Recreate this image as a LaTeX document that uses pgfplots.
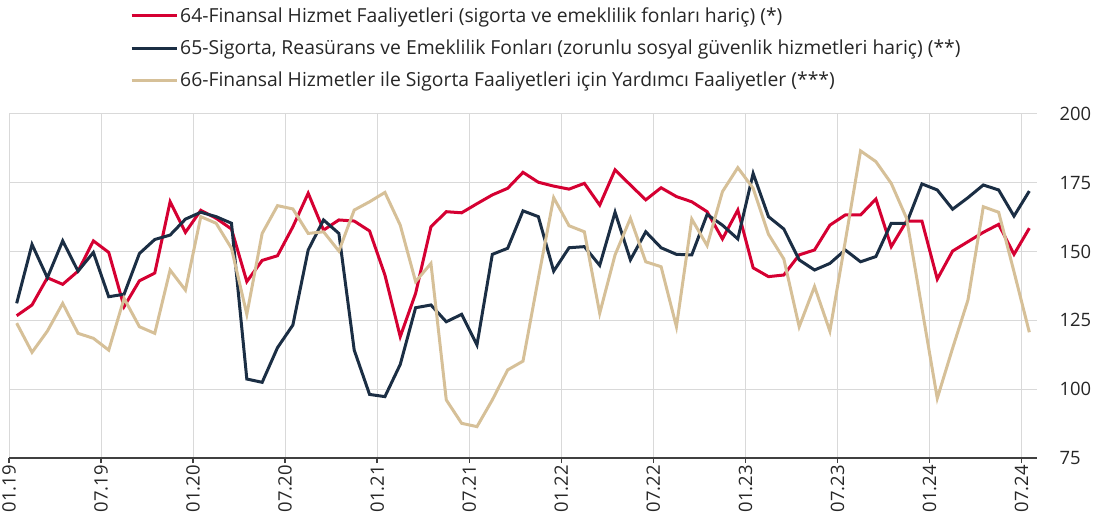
\documentclass[border=0pt]{standalone}
\usepackage{pgfplots}
\pgfplotsset{compat=1.18}
\usepackage{pgfplotstable}
\usepackage{fontspec}
\setmainfont{Open Sans}
\definecolor{cred}{RGB}{213,0,50}
\definecolor{cnavy}{RGB}{27,46,68}
\definecolor{ctan}{RGB}{214,192,152}
\definecolor{cgrid}{RGB}{217,217,217}
\definecolor{caxis}{RGB}{64,64,64}
\definecolor{ctext}{RGB}{38,38,38}

\pgfplotstableread{
i a b c
0 126.7 131.2 124.0
1 130.6 152.6 113.4
2 140.5 140.5 121.1
3 138.1 153.9 131.2
4 142.9 142.9 120.3
5 153.9 149.7 118.5
6 149.7 133.6 114.2
7 130.0 134.5 133.0
8 139.4 149.3 122.7
9 142.2 154.4 120.3
10 168.1 156.0 143.3
11 157.0 161.8 136.0
12 165.0 164.3 162.7
13 162.1 162.7 160.3
14 158.2 160.3 151.2
15 139.1 103.7 127.2
16 146.8 102.5 156.6
17 148.5 115.1 166.7
18 159.0 123.3 165.5
19 171.2 150.6 156.6
20 157.8 161.5 157.2
21 161.5 156.6 150.2
22 161.1 114.2 165.1
23 157.5 98.1 168.1
24 141.5 97.3 171.5
25 119.1 109.0 159.6
26 134.8 129.6 139.1
27 159.0 130.6 145.7
28 164.5 124.5 96.1
29 164.1 127.2 87.6
30 167.4 116.1 86.4
31 170.6 149.0 96.1
32 173.0 151.2 107.0
33 178.8 164.8 110.2
34 175.2 162.7 140.3
35 173.8 142.9 169.6
36 172.7 151.4 159.4
37 174.8 151.8 157.2
38 166.9 145.0 127.6
39 179.7 164.3 148.8
40 174.2 147.0 162.1
41 168.8 157.2 146.3
42 173.2 151.4 144.5
43 170.0 149.0 122.7
44 168.1 148.8 161.8
45 164.5 163.5 152.2
46 154.6 159.6 171.8
47 165.1 154.6 180.5
48 144.1 178.4 173.0
49 140.9 162.7 156.3
50 141.5 158.2 147.3
51 148.8 147.0 122.7
52 150.6 143.3 137.3
53 159.6 145.7 121.1
54 163.3 150.6 153.6
55 163.3 146.3 186.6
56 169.1 148.2 182.7
57 151.8 160.3 174.8
58 161.1 160.3 162.1
59 161.1 174.6 129.4
60 140.0 172.4 96.7
61 150.2 165.4 114.9
62 153.6 169.6 132.4
63 157.0 174.2 166.3
64 159.9 172.4 164.3
65 149.0 162.9 142.7
66 158.5 172.0 120.7
}\datatable

\begin{document}
\begin{tikzpicture}
\useasboundingbox (-9bp,-62bp) rectangle (1086bp,458bp);
\begin{axis}[
  at={(0,0)}, anchor=south west,
  scale only axis,
  width=1028bp, height=344bp,
  xmin=-0.5, xmax=66.5,
  ymin=75, ymax=200,
  ytick={75,100,125,150,175,200},
  xtick={-0.5,5.5,11.5,17.5,23.5,29.5,35.5,41.5,47.5,53.5,59.5,65.5},
  xticklabels={01.19,07.19,01.20,07.20,01.21,07.21,01.22,07.22,01.23,07.23,01.24,07.24},
  axis x line*=bottom,
  axis y line*=right,
  y axis line style={draw=none},
  x axis line style={draw=caxis, line width=1.5bp, -},
  xmajorgrids, ymajorgrids,
  major grid style={draw=cgrid, line width=1bp},
  tick align=outside,
  major tick length=5bp,
  xtick style={draw=caxis, line width=1.5bp},
  ytick style={draw=none},
  /pgf/number format/assume math mode=true,
  tick label style={font=\fontsize{18.5}{21}\selectfont, text=ctext},
  xticklabel style={rotate=90, anchor=east, inner sep=2bp},
  yticklabel style={anchor=west, xshift=14bp},
  legend cell align=left,
  legend image code/.code={\draw[#1, line width=3bp] (0bp,0bp) -- (45bp,0bp);},
  legend style={at={(0.1177,1.315)}, anchor=north west, draw=none, fill=none,
    inner sep=0pt, row sep=12bp,
    font=\fontsize{19.4}{22}\selectfont, text=ctext,
    nodes={inner sep=2bp}},
]
\addplot[cred, line width=3bp] table[x=i, y=a] {\datatable};
\addlegendentry{64-Finansal Hizmet Faaliyetleri (sigorta ve emeklilik fonları hariç) (*)}
\addplot[cnavy, line width=3bp] table[x=i, y=b] {\datatable};
\addlegendentry{65-Sigorta, Reasürans ve Emeklilik Fonları (zorunlu sosyal güvenlik hizmetleri hariç) (**)}
\addplot[ctan, line width=3bp] table[x=i, y=c] {\datatable};
\addlegendentry{66-Finansal Hizmetler ile Sigorta Faaliyetleri için Yardımcı Faaliyetler (***)}
\end{axis}
\end{tikzpicture}
\end{document}
